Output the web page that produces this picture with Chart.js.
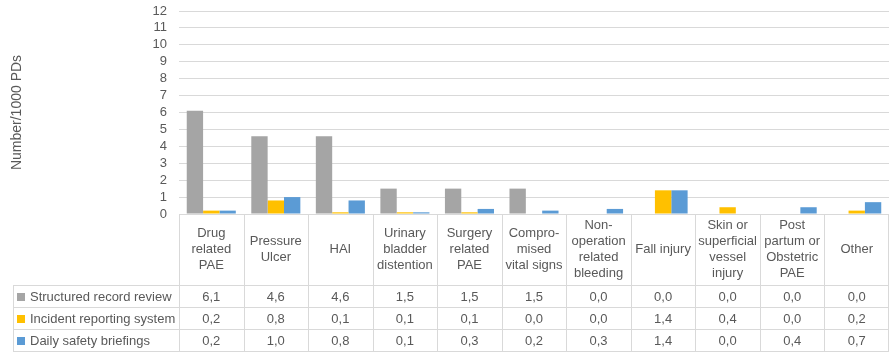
<!DOCTYPE html>
<html>
<head>
<meta charset="utf-8">
<script src="https://cdn.jsdelivr.net/npm/chart.js@4/dist/chart.umd.min.js"></script>
<style>
  html, body { margin: 0; padding: 0; background: #ffffff; }
  canvas { display: block; }
</style>
</head>
<body>
<canvas id="chart" width="890" height="354"></canvas>
<script>
// Event categories (multi-line header labels of the data table)
const categories = [
  ["Drug", "related", "PAE"],
  ["Pressure", "Ulcer"],
  ["HAI"],
  ["Urinary", "bladder", "distention"],
  ["Surgery", "related", "PAE"],
  ["Compro-", "mised", "vital signs"],
  ["Non-", "operation", "related", "bleeding"],
  ["Fall injury"],
  ["Skin or", "superficial", "vessel", "injury"],
  ["Post", "partum or", "Obstetric", "PAE"],
  ["Other"]
];

const seriesNames = ["Structured record review", "Incident reporting system", "Daily safety briefings"];
const structuredReview  = [6.1, 4.6, 4.6, 1.5, 1.5, 1.5, 0.0, 0.0, 0.0, 0.0, 0.0];
const incidentReporting = [0.2, 0.8, 0.1, 0.1, 0.1, 0.0, 0.0, 1.4, 0.4, 0.0, 0.2];
const safetyBriefings   = [0.2, 1.0, 0.8, 0.1, 0.3, 0.2, 0.3, 1.4, 0.0, 0.4, 0.7];

const yTicks = [0, 1, 2, 3, 4, 5, 6, 7, 8, 9, 10, 11, 12];
const yTitle = "Number/1000 PDs";

const colors = ["#A5A5A5", "#FFC000", "#5B9BD5"];
const textColor = "#595959";
const lineColor = "#D9D9D9";
const fontFamily = "'Liberation Sans', Arial, sans-serif";

const fmt = v => v.toFixed(1).replace(".", ",");

// Data table drawn underneath the plot, aligned with the category scale
const dataTable = {
  id: "dataTable",
  afterDraw(chart) {
    const ctx = chart.ctx;
    const area = chart.chartArea;
    const x = chart.scales.x;
    const n = categories.length;
    const colW = (area.right - area.left) / n;
    const top = Math.round(area.bottom);
    const headBottom = top + 71;
    const rowH = 22;
    const bottom = headBottom + 3 * rowH;
    const labelLeft = 13;
    const right = Math.round(area.right) - 1;
    const series = [structuredReview, incidentReporting, safetyBriefings];

    ctx.save();
    ctx.strokeStyle = lineColor;
    ctx.lineWidth = 1;
    ctx.beginPath();
    // column boundaries
    for (let i = 0; i <= n; i++) {
      let px = Math.round(area.left + i * colW) + 0.5;
      if (i === n) px = right + 0.5;
      ctx.moveTo(px, top);
      ctx.lineTo(px, bottom + 0.5);
    }
    // label column left edge
    ctx.moveTo(labelLeft + 0.5, headBottom);
    ctx.lineTo(labelLeft + 0.5, bottom + 0.5);
    // row lines
    for (let r = 0; r <= 3; r++) {
      const py = headBottom + r * rowH + 0.5;
      ctx.moveTo(labelLeft, py);
      ctx.lineTo(right + 1, py);
    }
    ctx.stroke();

    ctx.fillStyle = textColor;
    ctx.font = "13px " + fontFamily;
    ctx.textAlign = "center";
    ctx.textBaseline = "middle";

    // header: category names
    const lineH = 16;
    const headMid = (top + headBottom) / 2;
    categories.forEach((lines, i) => {
      const cx = x.getPixelForValue(i);
      const y0 = headMid - (lines.length - 1) * lineH / 2;
      lines.forEach((t, k) => ctx.fillText(t, cx, y0 + k * lineH));
    });

    // series rows
    series.forEach((vals, r) => {
      const cy = headBottom + r * rowH + rowH / 2 + 1;
      ctx.fillStyle = colors[r];
      ctx.fillRect(17, Math.round(cy - 4.5), 8, 8);
      ctx.fillStyle = textColor;
      ctx.textAlign = "left";
      ctx.fillText(seriesNames[r], 30, cy);
      ctx.textAlign = "center";
      vals.forEach((v, i) => ctx.fillText(fmt(v), x.getPixelForValue(i), cy));
    });
    ctx.restore();
  }
};

new Chart(document.getElementById("chart"), {
  type: "bar",
  data: {
    labels: categories.map(c => c.join(" ")),
    datasets: [
      { label: seriesNames[0], data: structuredReview, backgroundColor: colors[0] },
      { label: seriesNames[1], data: incidentReporting, backgroundColor: colors[1] },
      { label: seriesNames[2], data: safetyBriefings, backgroundColor: colors[2] }
    ]
  },
  options: {
    responsive: false,
    animation: false,
    devicePixelRatio: 1,
    layout: { padding: { top: 11, right: 1, bottom: 140, left: 0 } },
    datasets: { bar: { categoryPercentage: 0.76, barPercentage: 1.0 } },
    plugins: {
      legend: { display: false },
      tooltip: { enabled: false }
    },
    scales: {
      x: { display: false },
      y: {
        min: yTicks[0],
        max: yTicks[yTicks.length - 1],
        afterBuildTicks: s => { s.ticks = yTicks.map(v => ({ value: v })); },
        afterFit: s => { s.width = 179; s.paddingTop = 0; s.paddingBottom = 0; },
        border: { display: false },
        grid: { color: lineColor, drawTicks: false },
        ticks: { autoSkip: false, color: textColor, padding: 12, font: { family: fontFamily, size: 13 } },
        title: {
          display: true,
          text: yTitle,
          color: textColor,
          padding: { top: 9, bottom: 0 },
          font: { family: fontFamily, size: 14 }
        }
      }
    }
  },
  plugins: [dataTable]
});
</script>
</body>
</html>
